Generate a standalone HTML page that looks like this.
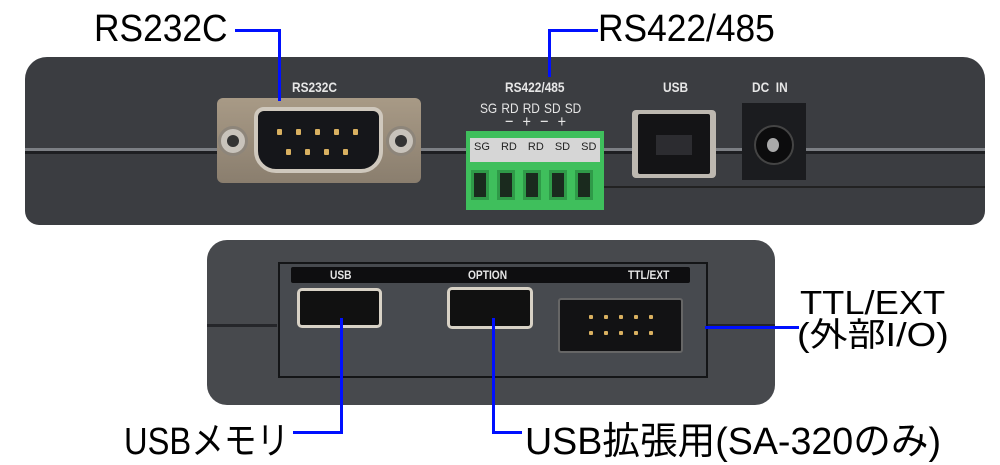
<!DOCTYPE html>
<html><head><meta charset="utf-8"><style>
*{margin:0;padding:0;box-sizing:border-box}
body{width:1000px;height:462px;background:#fff;position:relative;overflow:hidden;font-family:"Liberation Sans","Noto Sans CJK JP",sans-serif}
.a{position:absolute}
.lbl{position:absolute;white-space:nowrap;color:#000;transform-origin:0 0}
.bl{position:absolute;background:#0010ff}
.w{position:absolute;color:#e6e6e6;font-weight:bold;font-size:14px;white-space:nowrap;transform:scaleX(.85);transform-origin:0 0}
.pin{position:absolute;width:5px;height:6px;background:#d9b060;border-radius:1px}
.hole{position:absolute;top:170px;width:18px;height:30px;background:#1a2a1e;border:3px solid #2f9a48}
</style></head><body>

<!-- top device -->
<div class="a" style="left:25px;top:57px;width:960px;height:168px;background:#3b3d41;border-radius:22px 22px 14px 14px"></div>
<div class="a" style="left:25px;top:148px;width:960px;height:3px;background:#7c7f84"></div>
<div class="a" style="left:25px;top:151px;width:960px;height:3px;background:#1e1f22"></div>
<div class="a" style="left:600px;top:186px;width:385px;height:2px;background:#222"></div>

<div class="w" style="left:292px;top:79px">RS232C</div>
<div class="w" style="left:505px;top:79px">RS422/485</div>
<div class="w" style="left:663px;top:79px">USB</div>
<div class="w" style="left:752px;top:79px">DC&nbsp;&nbsp;IN</div>
<div class="w" style="left:480px;top:100px;font-size:14px;font-weight:normal;word-spacing:1px">SG RD RD SD SD</div>
<div class="w" style="left:505px;top:112px;font-size:17px;font-weight:normal;word-spacing:6px">− + − +</div>

<!-- DB9 -->
<div class="a" style="left:217px;top:98px;width:204px;height:85px;background:linear-gradient(#a89a86,#8a7e6e);border-radius:6px"></div>
<div class="a" style="left:218px;top:126px;width:30px;height:30px;border-radius:50%;background:#c8c3bb;border:3px solid #8d857a"></div>
<div class="a" style="left:227px;top:135px;width:12px;height:12px;border-radius:50%;background:#333"></div>
<div class="a" style="left:386px;top:126px;width:30px;height:30px;border-radius:50%;background:#c8c3bb;border:3px solid #8d857a"></div>
<div class="a" style="left:395px;top:135px;width:12px;height:12px;border-radius:50%;background:#333"></div>
<div class="a" style="left:254px;top:107px;width:129px;height:66px;background:#15161a;border:4px solid #cfc8bd;border-radius:10px 10px 22px 22px"></div>
<div class="pin" style="left:277px;top:129px"></div><div class="pin" style="left:296px;top:129px"></div><div class="pin" style="left:315px;top:129px"></div><div class="pin" style="left:334px;top:129px"></div><div class="pin" style="left:353px;top:129px"></div>
<div class="pin" style="left:286px;top:149px"></div><div class="pin" style="left:305px;top:149px"></div><div class="pin" style="left:324px;top:149px"></div><div class="pin" style="left:343px;top:149px"></div>

<!-- terminal -->
<div class="a" style="left:466px;top:131px;width:138px;height:79px;background:#3fbf5c"></div>
<div class="a" style="left:470px;top:138px;width:130px;height:24px;background:#d6d6d6"></div>
<div class="a" style="left:474px;top:141px;font-size:11px;color:#222;white-space:nowrap;word-spacing:8px">SG RD RD SD SD</div>
<div class="hole" style="left:471px"></div><div class="hole" style="left:497px"></div><div class="hole" style="left:523px"></div><div class="hole" style="left:549px"></div><div class="hole" style="left:575px"></div>

<!-- USB B -->
<div class="a" style="left:632px;top:110px;width:84px;height:68px;background:#bdb8b0;border-radius:4px"></div>
<div class="a" style="left:638px;top:114px;width:72px;height:60px;background:#141416;border-radius:2px"></div>
<div class="a" style="left:656px;top:135px;width:36px;height:20px;background:#2c2c30"></div>
<!-- DC -->
<div class="a" style="left:742px;top:103px;width:64px;height:77px;background:#1b1c1f"></div>
<div class="a" style="left:754px;top:125px;width:40px;height:40px;border-radius:50%;background:#0c0c0d;border:2px solid #444"></div>
<div class="a" style="left:767px;top:138px;width:12px;height:14px;border-radius:50%;background:#aaa"></div>

<!-- bottom device -->
<div class="a" style="left:207px;top:240px;width:568px;height:165px;background:#47494d;border-radius:20px"></div>
<div class="a" style="left:207px;top:324px;width:70px;height:3px;background:#25262a"></div>
<div class="a" style="left:706px;top:324px;width:69px;height:3px;background:#25262a"></div>
<div class="a" style="left:278px;top:262px;width:430px;height:116px;background:#474a4f;border:2px solid #141517"></div>
<div class="a" style="left:291px;top:267px;width:399px;height:16px;background:#0e0e10;border-radius:2px"></div>
<div class="w" style="left:330px;top:268px;font-size:12px">USB</div>
<div class="w" style="left:468px;top:268px;font-size:12px">OPTION</div>
<div class="w" style="left:628px;top:268px;font-size:12px">TTL/EXT</div>
<div class="a" style="left:297px;top:288px;width:85px;height:40px;background:#111;border:3px solid #d8d2c6;border-radius:5px"></div>
<div class="a" style="left:447px;top:287px;width:86px;height:42px;background:#111;border:3px solid #d8d2c6;border-radius:5px"></div>
<div class="a" style="left:558px;top:298px;width:125px;height:55px;background:#121214;border:2px solid #666;border-radius:3px"></div>
<div class="pin" style="left:589px;top:315px;width:4px;height:4px"></div><div class="pin" style="left:604px;top:315px;width:4px;height:4px"></div><div class="pin" style="left:619px;top:315px;width:4px;height:4px"></div><div class="pin" style="left:634px;top:315px;width:4px;height:4px"></div><div class="pin" style="left:649px;top:315px;width:4px;height:4px"></div>
<div class="pin" style="left:589px;top:331px;width:4px;height:4px"></div><div class="pin" style="left:604px;top:331px;width:4px;height:4px"></div><div class="pin" style="left:619px;top:331px;width:4px;height:4px"></div><div class="pin" style="left:634px;top:331px;width:4px;height:4px"></div><div class="pin" style="left:649px;top:331px;width:4px;height:4px"></div>

<!-- callout lines -->
<div class="bl" style="left:235px;top:29px;width:46px;height:3px"></div>
<div class="bl" style="left:278px;top:29px;width:3px;height:72px"></div>
<div class="bl" style="left:548px;top:29px;width:50px;height:3px"></div>
<div class="bl" style="left:548px;top:29px;width:3px;height:48px"></div>
<div class="bl" style="left:340px;top:318px;width:3px;height:116px"></div>
<div class="bl" style="left:293px;top:431px;width:50px;height:3px"></div>
<div class="bl" style="left:492px;top:318px;width:3px;height:116px"></div>
<div class="bl" style="left:492px;top:431px;width:30px;height:3px"></div>
<div class="bl" style="left:705px;top:326px;width:94px;height:3px"></div>

<!-- labels -->
<div class="lbl" style="left:94px;top:8px;font-size:38px;transform:scaleX(.93)">RS232C</div>
<div class="lbl" style="left:598px;top:8px;font-size:38px;transform:scaleX(.93)">RS422/485</div>
<div class="lbl" style="left:800px;top:284px;font-size:33px;transform:scaleX(1.1)">TTL/EXT</div>
<div class="lbl" style="left:797px;top:308px;font-size:33px;transform:scaleX(1.15)">(外部I/O)</div>
<div class="lbl" style="left:124px;top:410px;font-size:38px;transform:scaleX(.86)">USBメモリ</div>
<div class="lbl" style="left:525px;top:410px;font-size:38px;transform:scaleX(.99)">USB拡張用(SA-320のみ)</div>
</body></html>
